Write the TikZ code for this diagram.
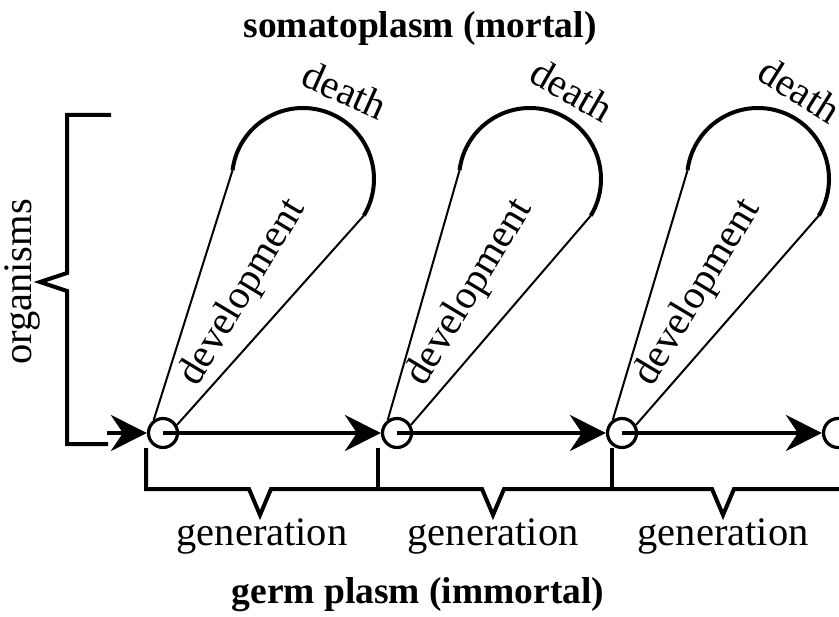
\documentclass[tikz,border=0pt]{standalone}
\usepackage{fontspec}
\setmainfont{Liberation Serif}
\usetikzlibrary{arrows.meta}

\begin{document}
\begin{tikzpicture}[x=0.5pt, y=0.5pt,
  germ node/.style={circle,draw,line width=1.6pt,minimum size=14.5pt,inner sep=0pt},
  germ line/.style={line width=2pt,-{Stealth[length=18pt,width=18pt,inset=6pt]}},
  soma line/.style={line width=1pt},
  soma arc/.style={line width=2pt},
  bracket/.style={line width=2pt},
  word/.style={font=\fontsize{20.25}{24}\selectfont},
  heading/.style={font=\fontsize{18.75}{22}\selectfont\bfseries}]
\useasboundingbox (0,0) rectangle (839,616);
\clip (0,0) rectangle (839,616);

\begin{scope}
\node[germ node] (c1) at (163,183) {};
\node[germ node] (c2) at (397,183) {};
\node[germ node] (c3) at (622,183) {};
\node[germ node] (c4) at (838,183) {};
\coordinate (g0) at (107,183);
% centres of the death arcs
\coordinate (o1) at (303,437);
\coordinate (o2) at (530,437);
\coordinate (o3) at (758,437);
\coordinate (a1) at ([shift={(173:35.5pt)}]o1);
\coordinate (a2) at ([shift={(173:35.5pt)}]o2);
\coordinate (a3) at ([shift={(173:35.5pt)}]o3);
\end{scope}

\begin{scope}
\draw[germ line] (g0) -- (c1);
\draw[germ line] (c1.center) -- (c2);
\draw[germ line] (c2.center) -- (c3);
\draw[germ line] (c3.center) -- (c4);
\draw[soma arc] (a1) arc[start angle=173, end angle=-31, radius=35.5pt] coordinate (b1);
\draw[soma arc] (a2) arc[start angle=173, end angle=-31, radius=35.5pt] coordinate (b2);
\draw[soma arc] (a3) arc[start angle=173, end angle=-31, radius=35.5pt] coordinate (b3);
\draw[soma line] (c1.125) -- (a1);
\draw[soma line] (c1.30) -- (b1);
\draw[soma line] (c2.125) -- (a2);
\draw[soma line] (c2.30) -- (b2);
\draw[soma line] (c3.125) -- (a3);
\draw[soma line] (c3.30) -- (b3);
\end{scope}

% brackets
\draw[bracket] (111,501) -- (67,501) -- (67,343) -- (40,334) -- (67,325) -- (67,172) -- (108,172);
\draw[bracket] (146,168) -- (146,127) -- (249,127) -- (260,101) -- (271,127) -- (482,127) -- (493,101)
  -- (504,127) -- (712,127) -- (723,101) -- (734,127) -- (839,127);
\draw[bracket] (378,168) -- (378,127);
\draw[bracket] (612,168) -- (612,127);

\begin{scope}[every node/.style={word}]
\node[rotate=59] (dev1) at (243,323) {development};
\node[rotate=59] (dev2) at (470,323) {development};
\node[rotate=59] (dev3) at (698,323) {development};
\node[rotate=-24] (death1) at (345,526) {death};
\node[rotate=-30] (death2) at (572,526) {death};
\node[rotate=-32] (death3) at (800,526) {death};
\node[anchor=base] (gen1) at (262,71) {generation};
\node[anchor=base] (gen2) at (493,71) {generation};
\node[anchor=base] (gen3) at (723,71) {generation};
\node[rotate=90, anchor=base] (org) at (31,334) {organisms};
\end{scope}
\node[heading, anchor=base] (soma) at (420,578) {somatoplasm (mortal)};
\node[heading, anchor=base] (germ) at (418,13) {germ plasm (immortal)};
\end{tikzpicture}
\end{document}
